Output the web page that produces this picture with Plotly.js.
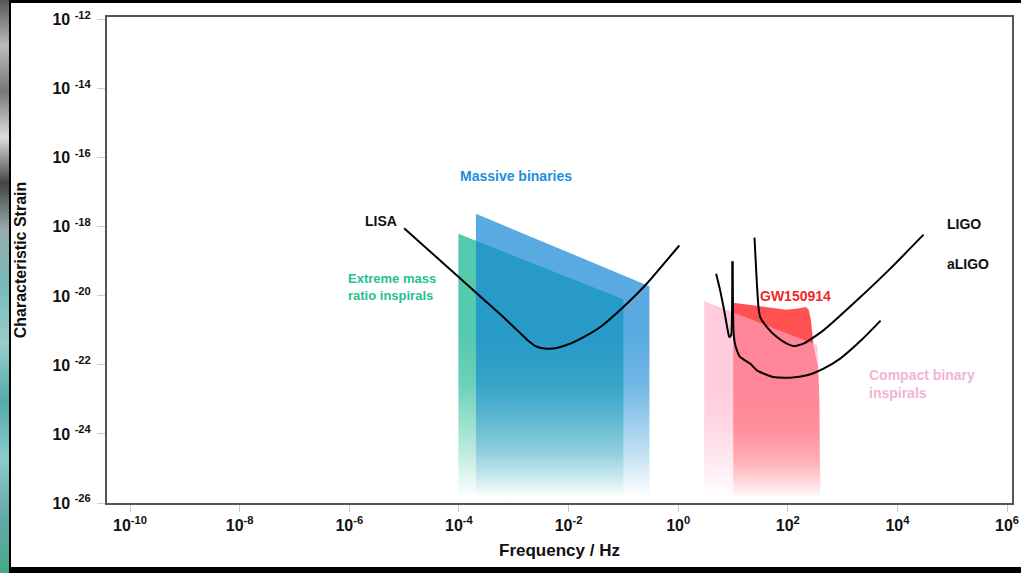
<!DOCTYPE html>
<html><head><meta charset="utf-8">
<script src="https://cdn.plot.ly/plotly-3.0.1.min.js"></script>
<style>
html,body{margin:0;padding:0;background:#fff;width:1021px;height:573px;overflow:hidden;}
#chart{position:absolute;left:0;top:0;width:1021px;height:573px;}
.frame{position:absolute;background:#000;}
</style></head><body>
<div id="chart"></div>
<div class="frame" style="left:0;top:0;width:1021px;height:3px"></div>
<div class="frame" style="left:0;top:567px;width:1021px;height:6px"></div>
<div style="position:absolute;left:0;top:0;width:9px;height:573px;background:linear-gradient(180deg,#555 0%,#bbb 8%,#777 16%,#ddd 24%,#444 32%,#9aa 40%,#7bb 50%,#9cc 60%,#5aa 70%,#8cc 80%,#6aa 90%,#4a8 100%)"></div>
<div class="frame" style="left:9px;top:0;width:2px;height:573px"></div>
<script>
// axis ticks (log10 exponents)
const tickExpX = [-10,-8,-6,-4,-2,0,2,4,6];
const tickExpY = [-26,-24,-22,-20,-18,-16,-14,-12];

// LISA sensitivity curve (log10 frequency, log10 strain)
const lisaLogF = [-5.00,-4.00,-3.20,-2.90,-2.75,-2.62,-2.50,-2.35,-2.20,-2.00,-1.70,-1.42,-1.00,-0.57,0.02];
const lisaLogH = [-18.04,-19.46,-20.60,-21.05,-21.28,-21.44,-21.51,-21.53,-21.50,-21.40,-21.17,-20.90,-20.32,-19.64,-18.54];

// initial LIGO curve
const ligoLogF = [1.392,1.436,1.465,1.496,1.618,1.801,1.983,2.104,2.286,2.651,3.261,3.869,4.476];
const ligoLogH = [-18.313,-19.646,-20.323,-20.613,-20.902,-21.192,-21.383,-21.453,-21.383,-20.998,-20.129,-19.211,-18.226];

// aLIGO low-frequency notch
const aligoNotchLogF = [0.693,0.766,0.839,0.894,0.931,0.967,0.985,0.991];
const aligoNotchLogH = [-19.356,-19.840,-20.419,-20.911,-21.192,-21.143,-20.129,-19.000];

// aLIGO bucket
const aligoLogF = [0.991,0.9985,1.009,1.031,1.071,1.131,1.314,1.436,1.734,2.044,2.349,2.651,2.956,3.358,3.693];
const aligoLogH = [-19.000,-20.129,-20.998,-21.346,-21.577,-21.771,-21.962,-22.157,-22.350,-22.368,-22.301,-22.107,-21.817,-21.258,-20.717];

// source regions
const emriLogF = [-4.01,-1.00,-1.00,-4.01];
const emriLogH = [-18.20,-20.10,-25.83,-25.83];
const massiveLogF = [-3.69,-0.524,-0.524,-3.69];
const massiveLogH = [-17.62,-19.72,-25.83,-25.83];
const gwLogF = [1.004,1.427,1.971,2.153,2.334,2.382,2.42,2.47,2.55,2.573,2.59,1.004];
const gwLogH = [-20.20,-20.28,-20.40,-20.37,-20.32,-20.40,-20.68,-21.45,-22.03,-22.99,-25.83,-25.83];
const compactLogF = [0.474,2.54,2.573,2.61,0.474];
const compactLogH = [-20.15,-21.43,-22.99,-25.83,-25.83];

const p10 = a => a.map(v => Math.pow(10, v));

function region(lf, lh, rgb, a, stopExp) {
  return {
    type:'scatter', mode:'lines', x:p10(lf), y:p10(lh), fill:'toself',
    line:{width:0, color:'rgba(0,0,0,0)'}, hoverinfo:'skip',
    fillcolor:'rgba('+rgb+','+a+')',
    fillgradient:{type:'vertical', start:Math.pow(10,-25.85), stop:Math.pow(10,stopExp),
      colorscale:[[0,'rgba('+rgb+',0)'],[0.3,'rgba('+rgb+','+(a*0.4)+')'],[0.7,'rgba('+rgb+','+(a*0.85)+')'],[1,'rgba('+rgb+','+a+')']]}
  };
}
function curve(lf, lh, sm) {
  return {type:'scatter', mode:'lines', x:p10(lf), y:p10(lh),
    line:{color:'#000', width:2, shape:'spline', smoothing:sm}, hoverinfo:'skip'};
}

const traces = [
  region(emriLogF, emriLogH, '5,176,134', 0.68, -21.2),
  region(massiveLogF, massiveLogH, '19,134,212', 0.7, -21.2),
  region(gwLogF, gwLogH, '255,55,55', 0.87, -22.6),
  region(compactLogF, compactLogH, '255,170,200', 0.6, -22.6),
  curve(lisaLogF, lisaLogH, 0.4),
  curve(ligoLogF, ligoLogH, 0.5),
  curve(aligoNotchLogF, aligoNotchLogH, 0.4),
  curve(aligoLogF, aligoLogH, 0.5)
];

const annFont = (c, s) => ({family:'Liberation Sans, Arial, sans-serif', size:s, color:c, weight:'bold'});
const annotations = [
  {x:-2.965, y:-16.54, text:'Massive binaries', xanchor:'center', font:annFont('#1e8fdc',14)},
  {x:-5.42, y:-17.84, text:'LISA', xanchor:'center', font:annFont('#111',14)},
  {x:-6.06, y:-19.75, text:'Extreme mass<br>ratio inspirals', xanchor:'left', align:'left', font:annFont('#26bf96',13)},
  {x:1.46, y:-20.01, text:'GW150914', xanchor:'left', font:annFont('#f02828',14)},
  {x:4.87, y:-17.93, text:'LIGO', xanchor:'left', font:annFont('#111',14)},
  {x:4.87, y:-19.09, text:'aLIGO', xanchor:'left', font:annFont('#111',14)},
  {x:3.45, y:-22.56, text:'Compact binary<br>inspirals', xanchor:'left', align:'left', font:annFont('#f0b4d4',14)}
].map(a => Object.assign({xref:'x', yref:'y', showarrow:false, yanchor:'middle'}, a));

const tickFont = {family:'Liberation Sans, Arial, sans-serif', size:16, weight:'bold', color:'#111'};
const layout = {
  width:1021, height:573,
  margin:{l:107, r:9, t:17, b:70, pad:0},
  paper_bgcolor:'#fff', plot_bgcolor:'#fff', showlegend:false,
  font:{family:'Liberation Sans, Arial, sans-serif', color:'#111'},
  xaxis:{type:'log', range:[-10.42, 6.09], automargin:false,
    tickmode:'array', tickvals:p10(tickExpX), ticktext:tickExpX.map(e => '10<sup>'+e+'</sup>'),
    ticks:'outside', ticklen:7, tickcolor:'#ccc', tickwidth:1,
    showline:true, linecolor:'#555', linewidth:2, mirror:true, showgrid:false, zeroline:false,
    tickfont:tickFont,
    title:{text:'Frequency / Hz', font:{family:'Liberation Sans, Arial, sans-serif', size:17, weight:'bold', color:'#111'}, standoff:11}},
  yaxis:{type:'log', range:[-26, -11.92], automargin:false,
    tickmode:'array', tickvals:p10(tickExpY), ticktext:tickExpY.map(e => '10 <sup>'+e+'</sup>'),
    ticks:'outside', ticklen:8, tickcolor:'#ccc', tickwidth:1, ticklabelstandoff:3,
    showline:true, linecolor:'#555', linewidth:2, mirror:true, showgrid:false, zeroline:false,
    tickfont:tickFont,
    title:{text:'Characteristic Strain', font:{family:'Liberation Sans, Arial, sans-serif', size:16, weight:'bold', color:'#111'}, standoff:22}},
  annotations:annotations
};
Plotly.newPlot('chart', traces, layout, {displayModeBar:false, staticPlot:true});
</script>
</body></html>
